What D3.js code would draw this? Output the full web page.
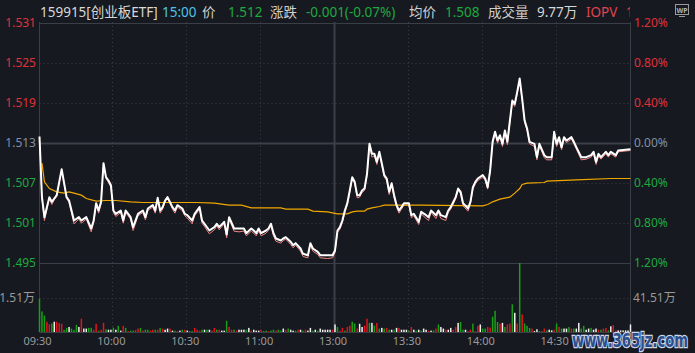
<!DOCTYPE html>
<html>
<head>
<meta charset="utf-8">
<script src="https://cdn.jsdelivr.net/npm/d3@7"></script>
<style>
  html, body { margin: 0; padding: 0; background: #16191f; overflow: hidden; }
  svg { display: block; font-family: "Noto Sans", "Noto Sans CJK SC", sans-serif; }
</style>
</head>
<body>
<div id="chart"></div>
<script>
// Header texts
const headerText = ["159915[创业板ETF]", "15:00", "价", "1.512", "涨跌", "-0.001(-0.07%)", "均价", "1.508", "成交量", "9.77万", "IOPV", "1"];

// Axis ticks and labels
const priceTicks = [1.531, 1.525, 1.519, 1.513, 1.507, 1.501, 1.495];
const pctLabels = ["1.20%", "0.80%", "0.40%", "0.00%", "0.40%", "0.80%", "1.20%"];
const timeTicks = [0, 30, 60, 90, 120, 150, 180, 210];
const timeLabels = ["09:30", "10:00", "10:30", "11:00", "13:00", "13:30", "14:00", "14:30"];
const volLabelLeft = "1.51万";
const volLabelRight = "41.51万";
const volGrid = 1.51;

// Price line (minute index from 09:30, price)
const priceMin = [0,1,2,4,5,6,7,9,11,12,14,16,17,19,21,22,23,24,25,26,27,28,29,30,31,33,34,35,37,38,40,42,43,44,46,47,48,49,50,51,52,54,55,56,58,59,60,62,63,65,66,67,69,71,72,73,75,76,77,79,81,83,84,86,87,88,89,90,92,93,94,95,96,98,99,100,102,103,104,106,107,109,110,111,113,114,117,119,120,121,122,123,124,125,126,127,128,129,130,131,132,133,134,135,136,137,138,139,140,141,142,143,144,145,146,147,148,150,151,152,154,155,157,158,159,161,162,163,165,166,167,169,170,171,172,174,175,176,177,178,180,181,182,183,184,185,186,187,188,189,190,192,193,194,195,196,197,198,199,201,202,203,205,206,208,209,210,211,212,213,214,216,217,218,220,222,224,225,226,227,228,230,231,232,234,235,240];
const priceVal = [1.5139,1.5048,1.5018,1.5048,1.5041,1.5046,1.5051,1.5090,1.5048,1.5043,1.5013,1.5018,1.5013,1.5018,1.5001,1.5013,1.5039,1.5028,1.5041,1.5099,1.5078,1.5073,1.5066,1.5028,1.5023,1.5028,1.5013,1.5028,1.5018,1.5003,1.5023,1.5028,1.5018,1.5031,1.5036,1.5028,1.5047,1.5028,1.5033,1.5043,1.5048,1.5033,1.5028,1.5036,1.5031,1.5023,1.5021,1.5013,1.5023,1.5033,1.5013,1.5008,1.4998,1.5003,1.5008,1.5003,1.5011,1.4992,1.5018,1.5001,1.5001,1.5001,1.4994,1.5001,1.4998,1.4994,1.5001,1.4994,1.4998,1.5001,1.5008,1.4994,1.4986,1.4983,1.4986,1.4988,1.4981,1.4976,1.4979,1.4971,1.4963,1.4961,1.4979,1.4971,1.4966,1.4961,1.4961,1.4961,1.4968,1.4998,1.5003,1.5013,1.5028,1.5039,1.5058,1.5078,1.5071,1.5051,1.5051,1.5058,1.5061,1.5083,1.5128,1.5113,1.5113,1.5101,1.5116,1.5099,1.5081,1.5076,1.5056,1.5069,1.5051,1.5036,1.5028,1.5033,1.5039,1.5039,1.5021,1.5023,1.5011,1.5026,1.5021,1.5018,1.5028,1.5021,1.5028,1.5021,1.5018,1.5028,1.5033,1.5048,1.5061,1.5056,1.5039,1.5031,1.5041,1.5063,1.5071,1.5076,1.5081,1.5076,1.5063,1.5088,1.5131,1.5146,1.5133,1.5141,1.5128,1.5148,1.5131,1.5193,1.5188,1.5206,1.5226,1.5196,1.5163,1.5151,1.5131,1.5128,1.5108,1.5128,1.5111,1.5108,1.5108,1.5146,1.5128,1.5138,1.5123,1.5138,1.5133,1.5138,1.5131,1.5123,1.5108,1.5108,1.5111,1.5116,1.5101,1.5113,1.5108,1.5116,1.5111,1.5116,1.5111,1.5118,1.5120];

// IOPV line, same minutes as price
const iopvVal = [1.5137,1.5045,1.5013,1.5046,1.5037,1.5044,1.5049,1.5088,1.5046,1.5040,1.5008,1.5015,1.5009,1.5015,1.4996,1.5010,1.5036,1.5024,1.5038,1.5097,1.5076,1.5070,1.5063,1.5025,1.5019,1.5025,1.5009,1.5025,1.5015,1.4998,1.5020,1.5025,1.5014,1.5028,1.5033,1.5024,1.5045,1.5024,1.5030,1.5041,1.5046,1.5030,1.5024,1.5033,1.5028,1.5020,1.5017,1.5008,1.5020,1.5030,1.5009,1.5004,1.4993,1.4999,1.5005,1.4999,1.5008,1.4987,1.5015,1.4997,1.4996,1.4997,1.4990,1.4997,1.4994,1.4990,1.4997,1.4990,1.4994,1.4998,1.5005,1.4990,1.4982,1.4979,1.4983,1.4985,1.4977,1.4972,1.4976,1.4967,1.4959,1.4957,1.4976,1.4967,1.4962,1.4957,1.4956,1.4957,1.4965,1.4995,1.5000,1.5010,1.5025,1.5036,1.5055,1.5076,1.5068,1.5047,1.5048,1.5055,1.5058,1.5080,1.5126,1.5108,1.5110,1.5097,1.5114,1.5096,1.5078,1.5073,1.5052,1.5066,1.5047,1.5033,1.5024,1.5030,1.5036,1.5036,1.5017,1.5020,1.5007,1.5023,1.5016,1.5013,1.5025,1.5016,1.5025,1.5016,1.5013,1.5025,1.5030,1.5045,1.5058,1.5053,1.5035,1.5027,1.5038,1.5060,1.5068,1.5073,1.5078,1.5073,1.5060,1.5085,1.5128,1.5143,1.5129,1.5138,1.5124,1.5145,1.5127,1.5190,1.5184,1.5203,1.5223,1.5193,1.5160,1.5148,1.5128,1.5124,1.5104,1.5125,1.5107,1.5104,1.5104,1.5143,1.5124,1.5135,1.5119,1.5135,1.5130,1.5135,1.5128,1.5120,1.5104,1.5105,1.5108,1.5113,1.5097,1.5110,1.5105,1.5113,1.5108,1.5113,1.5108,1.5116,1.5118];

// Average price line
const avgMin = [1,2,4,7,10,12,14,17,19,23,27,31,37,42,64,71,77,82,86,98,100,109,111,117,121,125,127,129,132,133,135,138,140,155,180,182,184,187,191,193,195,196,198,205,206,218,232,240];
const avgVal = [1.5099,1.5071,1.5061,1.5056,1.5054,1.5056,1.5054,1.5051,1.5046,1.5042,1.5043,1.5043,1.5041,1.5040,1.5040,1.5039,1.5036,1.5036,1.5032,1.5032,1.5030,1.5030,1.5027,1.5026,1.5023,1.5023,1.5026,1.5027,1.5027,1.5030,1.5032,1.5034,1.5036,1.5036,1.5035,1.5037,1.5041,1.5045,1.5048,1.5054,1.5061,1.5067,1.5069,1.5070,1.5072,1.5074,1.5076,1.5076];

// Volume per minute (万) and bar colour: r up, g down, w flat
const volVal = [1.46,0.90,0.72,0.45,0.34,0.37,0.45,0.45,0.39,0.36,0.09,0.18,0.22,0.15,0.09,0.31,0.22,0.58,0.15,0.15,
  0.18,0.18,0.10,0.36,0.05,0.10,0.40,0.12,0.10,0.10,0.19,0.10,0.27,0.06,0.27,0.18,0.04,0.06,0.06,0.09,
  0.15,0.18,0.06,0.10,0.10,0.06,0.10,0.10,0.10,0.18,0.15,0.10,0.15,0.15,0.06,0.06,0.04,0.06,0.10,0.10,
  0.06,0.04,0.04,0.18,0.10,0.06,0.10,0.10,0.10,0.10,0.06,0.18,0.10,0.10,0.06,0.06,0.49,0.22,0.10,0.10,
  0.06,0.10,0.10,0.10,0.10,0.18,0.06,0.10,0.06,0.06,0.10,0.04,0.06,0.04,0.06,0.10,0.06,0.10,0.06,0.15,
  0.10,0.15,0.10,0.06,0.06,0.10,0.10,0.06,0.10,0.06,0.18,0.06,0.10,0.06,0.15,0.10,0.10,0.10,0.10,0.10,
  0.33,0.22,0.06,0.18,0.06,0.22,0.28,0.45,0.37,0.15,0.36,0.22,0.28,0.58,0.40,0.40,0.28,0.40,0.15,0.18,
  0.15,0.18,0.10,0.10,0.10,0.18,0.18,0.10,0.10,0.10,0.06,0.22,0.10,0.06,0.10,0.06,0.15,0.10,0.06,0.06,
  0.07,0.15,0.33,0.22,0.15,0.10,0.10,0.18,0.10,0.22,0.40,0.44,0.10,0.10,0.04,0.10,0.37,0.04,0.27,0.33,
  0.15,0.15,0.22,0.19,0.67,0.93,0.44,0.37,0.40,0.22,0.33,0.37,1.21,0.84,0.37,3.02,0.77,0.37,0.27,0.18,
  0.15,0.04,0.12,0.04,0.04,0.15,0.07,0.10,0.07,0.10,0.37,0.22,0.15,0.15,0.15,0.22,0.15,0.15,0.15,0.40,
  0.15,0.27,0.10,0.15,0.18,0.10,0.15,0.10,0.10,0.15,0.18,0.07,0.25,0.30,0.07,0.07,0.07,0.07,0.07,0.07,
  0.33];
const volDir = "gggrrgwrrrggwgggwrwwggrrgrrgwwgwgwrgrggrrgrggrrgrgrwwrwgrwgrwggrrrgwgwrrgrwwgrrg" +
  "rwwwgwrwwwrggrggrggwrgwwgrwgrwwgwgwwwww" +
  "rwgrrgrrggrwwrrgwgrgwgrgwgwrwwwgrwgwgwwr" +
  "wgrgwwrwwrrwggwrrgrrwggrrgggrwgrrgwrgrggg" +
  "rwwgrrgwwrgrgwwgrgwwggwwgwwrgrrgwrrwwwwww";

const colors = { r: "#e0141e", g: "#18a018", w: "#f0f0f0" };
const red = "#e0303a", green = "#1fa940", flat = "#8290a6";
const gridColor = "#3a3e46";

const width = 695, height = 353;
const svg = d3.select("#chart").append("svg")
  .attr("width", width)
  .attr("height", height);

svg.append("rect").attr("width", width).attr("height", height).attr("fill", "#16191f");

const x = d3.scaleLinear().domain([0, 240]).range([39.5, 630.5]);
const y = d3.scaleLinear().domain([1.495, 1.531]).range([262.5, 22.5]);
const yVol = d3.scaleLinear().domain([0, 3.02]).range([332, 263]);

// horizontal grid
priceTicks.forEach(t => {
  const solid = t === 1.531 || t === 1.495;
  svg.append("line")
    .attr("x1", x(0)).attr("x2", x(240))
    .attr("y1", Math.round(y(t)) + 0.5).attr("y2", Math.round(y(t)) + 0.5)
    .attr("stroke", t === 1.513 ? "#3c3f47" : gridColor)
    .attr("stroke-width", t === 1.513 ? 2 : 1)
    .attr("stroke-dasharray", solid || t === 1.513 ? null : "1,3");
});
svg.append("line")
  .attr("x1", x(0)).attr("x2", x(240))
  .attr("y1", Math.round(yVol(volGrid)) + 0.5).attr("y2", Math.round(yVol(volGrid)) + 0.5)
  .attr("stroke", gridColor).attr("stroke-dasharray", "1,3");
svg.append("line")
  .attr("x1", x(0)).attr("x2", x(240))
  .attr("y1", yVol(0) + 0.5).attr("y2", yVol(0) + 0.5)
  .attr("stroke", gridColor);

// vertical grid
timeTicks.concat([240]).forEach(t => {
  const solid = t === 0 || t === 120 || t === 240;
  svg.append("line")
    .attr("x1", Math.round(x(t)) - 0.5).attr("x2", Math.round(x(t)) - 0.5)
    .attr("y1", 22).attr("y2", 332)
    .attr("stroke", t === 120 ? "#3c3f47" : gridColor)
    .attr("stroke-width", t === 120 ? 2 : 1)
    .attr("stroke-dasharray", solid ? null : "1,3");
});

// left price axis
const tickColor = d => d > 1.513 ? red : d < 1.513 ? green : flat;
const leftAxis = svg.append("g")
  .attr("transform", "translate(39,0)")
  .call(d3.axisLeft(y).tickValues(priceTicks).tickSize(0).tickPadding(3).tickFormat(d3.format(".3f")));
leftAxis.select(".domain").remove();
leftAxis.selectAll("text")
  .attr("font-size", 12)
  .attr("font-family", "Noto Sans, sans-serif")
  .attr("fill", d => tickColor(d));

// right percent axis
const rightAxis = svg.append("g")
  .attr("transform", "translate(630,0)")
  .call(d3.axisRight(y).tickValues(priceTicks).tickSize(0).tickPadding(4).tickFormat((d, i) => pctLabels[i]));
rightAxis.select(".domain").remove();
rightAxis.selectAll("text")
  .attr("font-size", 12)
  .attr("font-family", "Noto Sans, sans-serif")
  .attr("fill", d => tickColor(d));

// time axis
const timeAxis = svg.append("g")
  .attr("transform", "translate(-2.5,335)")
  .call(d3.axisBottom(x).tickValues(timeTicks).tickSize(0).tickPadding(2).tickFormat((d, i) => timeLabels[i]));
timeAxis.select(".domain").remove();
timeAxis.selectAll("text")
  .attr("font-size", 11)
  .attr("font-family", "Noto Sans, sans-serif")
  .attr("fill", "#9a9a9a");

// volume labels
svg.append("text")
  .attr("x", 35).attr("y", yVol(volGrid))
  .attr("dy", "0.35em")
  .attr("text-anchor", "end")
  .attr("font-size", 12)
  .attr("fill", "#9a9a9a")
  .text(volLabelLeft);
svg.append("text")
  .attr("x", 633).attr("y", yVol(volGrid))
  .attr("dy", "0.35em")
  .attr("font-size", 12)
  .attr("fill", "#9a9a9a")
  .text(volLabelRight);

// volume bars
svg.append("g")
  .selectAll("rect")
  .data(volVal)
  .join("rect")
  .attr("x", (d, i) => x(i) - 0.75)
  .attr("width", 1.5)
  .attr("y", d => yVol(d))
  .attr("height", d => yVol(0) - yVol(d))
  .attr("fill", (d, i) => colors[volDir[i]]);

// lines
const line = d3.line()
  .x(d => x(d[0]))
  .y(d => y(d[1]));

svg.append("path")
  .datum(d3.zip(priceMin, iopvVal))
  .attr("fill", "none")
  .attr("stroke", "#f08484")
  .attr("stroke-width", 1)
  .attr("d", line);

svg.append("path")
  .datum(d3.zip(avgMin, avgVal))
  .attr("fill", "none")
  .attr("stroke", "#f0a800")
  .attr("stroke-width", 1.2)
  .attr("d", line);

svg.append("path")
  .datum(d3.zip(priceMin, priceVal))
  .attr("fill", "none")
  .attr("stroke", "#ffffff")
  .attr("stroke-width", 2)
  .attr("stroke-linejoin", "round")
  .attr("d", line);

// header
const headerX = [40, 162, 202, 228, 270, 306, 409, 445, 488, 537, 586, 626];
const headerColor = ["#d8d8d8", "#4cc4e8", "#cfcfcf", green, "#cfcfcf", green, "#cfcfcf", green, "#cfcfcf", "#d8d8d8", "#e04452", "#e04452"];
svg.append("clipPath").attr("id", "hclip")
  .append("rect").attr("x", 0).attr("y", 0).attr("width", 630).attr("height", 21);
svg.append("g")
  .attr("clip-path", "url(#hclip)")
  .selectAll("text")
  .data(headerText)
  .join("text")
  .attr("x", (d, i) => headerX[i])
  .attr("y", 17)
  .attr("font-size", 13.5)
  .attr("font-family", "Noto Sans, Noto Sans CJK SC, sans-serif")
  .attr("fill", (d, i) => headerColor[i])
  .text(d => d);

// small WP icon
const icon = svg.append("g").attr("transform", "translate(675,4)");
icon.append("rect").attr("x", 0.5).attr("y", 0.5).attr("width", 13).attr("height", 10)
  .attr("fill", "none").attr("stroke", "#9a9a9a");
icon.append("text").attr("x", 7).attr("y", 8.5).attr("text-anchor", "middle")
  .attr("font-size", 7).attr("font-weight", "bold").attr("fill", "#b0b0b0").text("WP");
icon.append("line").attr("x1", 4).attr("x2", 10).attr("y1", 12.5).attr("y2", 12.5).attr("stroke", "#9a9a9a");

// watermark
svg.append("text")
  .attr("x", 572).attr("y", 347)
  .attr("font-size", 19)
  .attr("font-weight", "bold")
  .attr("font-family", "DejaVu Sans, sans-serif")
  .attr("textLength", 116)
  .attr("lengthAdjust", "spacingAndGlyphs")
  .attr("fill", "#2c4d8c")
  .attr("stroke", "#cdd6e6")
  .attr("stroke-width", 2.5)
  .attr("paint-order", "stroke")
  .text("www.365jz.com");
</script>
</body>
</html>
